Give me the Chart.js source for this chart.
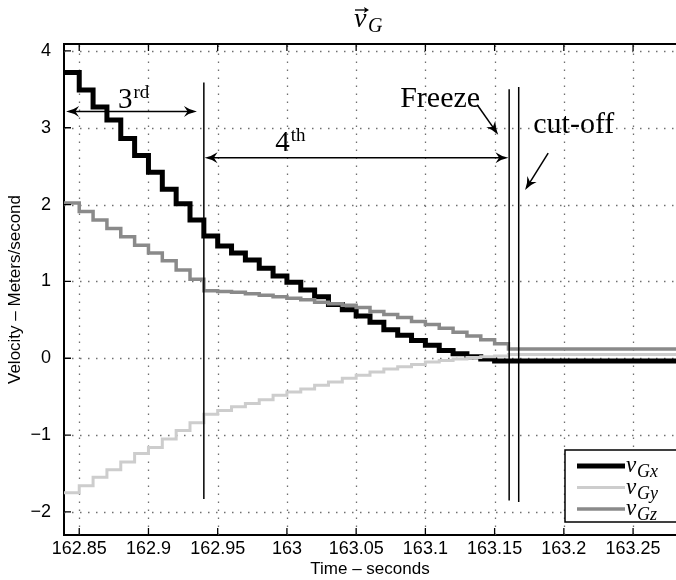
<!DOCTYPE html>
<html>
<head>
<meta charset="utf-8">
<script src="https://cdn.jsdelivr.net/npm/chart.js@4.4.0/dist/chart.umd.min.js"></script>
<style>
  html, body { margin: 0; padding: 0; background: #fff; }
</style>
</head>
<body>
<canvas id="myChart" width="676" height="580"></canvas>
<script>
// instantes (s) dos degraus: cada valor vale até o instante seguinte
const times = [162.839, 162.85, 162.86, 162.87, 162.88, 162.89, 162.90, 162.91, 162.92, 162.93,
    162.94, 162.95, 162.96, 162.97, 162.98, 162.99, 163.00, 163.01, 163.02, 163.03,
    163.04, 163.05, 163.06, 163.07, 163.08, 163.09, 163.10, 163.11, 163.12, 163.13,
    163.14, 163.15, 163.16, 163.281];

const vGx = [3.72, 3.49, 3.27, 3.10, 2.86, 2.64, 2.42, 2.20, 2.01, 1.80,
    1.59, 1.46, 1.37, 1.28, 1.17, 1.07, 0.99, 0.89, 0.80, 0.70,
    0.63, 0.55, 0.47, 0.37, 0.30, 0.23, 0.17, 0.10, 0.06, 0.02,
    -0.01, -0.035, -0.035, -0.035];

const vGy = [-1.75, -1.66, -1.55, -1.45, -1.35, -1.24, -1.16, -1.05, -0.94, -0.84,
    -0.73, -0.68, -0.63, -0.59, -0.54, -0.48, -0.44, -0.40, -0.35, -0.31,
    -0.26, -0.22, -0.18, -0.14, -0.11, -0.08, -0.05, -0.03, -0.01, 0.01,
    0.02, 0.03, 0.05, 0.05];

const vGz = [2.02, 1.91, 1.80, 1.69, 1.58, 1.47, 1.37, 1.27, 1.15, 1.03,
    0.88, 0.87, 0.86, 0.84, 0.82, 0.80, 0.78, 0.76, 0.73, 0.71,
    0.69, 0.66, 0.61, 0.57, 0.53, 0.48, 0.44, 0.39, 0.34, 0.29,
    0.24, 0.19, 0.12, 0.12];

const xTicks = [162.85, 162.9, 162.95, 163, 163.05, 163.1, 163.15, 163.2, 163.25];
const yTicks = [-2, -1, 0, 1, 2, 3, 4];
const legendSubs = ['Gx', 'Gy', 'Gz'];

// anotações em coordenadas de dados (tempo, velocidade)
const phaseLines = [
    { t: 162.94, from: -1.83, to: 3.59 },
    { t: 163.1605, from: -1.85, to: 3.50 },
    { t: 163.1674, from: -1.87, to: 3.53 }
];
const spanArrows = [
    { from: 162.8405, to: 162.935, v: 3.21 },
    { from: 162.9405, to: 163.1600, v: 2.61 }
];
const pointerArrows = [
    { t0: 163.1374, v0: 3.30, t1: 163.1526, v1: 2.91 },
    { t0: 163.1887, v0: 2.67, t1: 163.1720, v1: 2.19 }
];
const phaseLabels = [
    { t: 162.878, v: 3.26, main: '3', sup: 'rd' },
    { t: 162.9915, v: 2.70, main: '4', sup: 'th' }
];
const eventLabels = [
    { t: 163.0818, v: 3.27, text: 'Freeze' },
    { t: 163.1779, v: 2.93, text: 'cut-off' }
];

const sans = "'Liberation Sans', Arial, sans-serif";
const serif = "'Liberation Serif', 'DejaVu Serif', serif";
const lineColors = ['#000000', '#cdcdcd', '#8a8a8a'];
const lineWidths = [5, 3, 3.5];

const toPoints = vals => times.map((t, i) => ({ x: t, y: vals[i] }));

function arrowHead(ctx, x, y, ang) {
    const len = 13, w = 5.5;
    ctx.save();
    ctx.translate(x, y);
    ctx.rotate(ang);
    ctx.beginPath();
    ctx.moveTo(0, 0);
    ctx.quadraticCurveTo(-len * 0.55, -w * 0.25, -len, -w);
    ctx.lineTo(-len * 0.72, 0);
    ctx.lineTo(-len, w);
    ctx.quadraticCurveTo(-len * 0.55, w * 0.25, 0, 0);
    ctx.fill();
    ctx.restore();
}

// grade pontilhada (grid on do MATLAB)
const gridPlugin = {
    id: 'dotGrid',
    beforeDatasetsDraw(chart) {
        const { ctx, chartArea: a, scales: { x, y } } = chart;
        ctx.save();
        ctx.strokeStyle = '#6f6f6f';
        ctx.lineWidth = 1.3;
        ctx.setLineDash([1.5, 6.5]);
        ctx.beginPath();
        xTicks.forEach(t => {
            const px = Math.round(x.getPixelForValue(t)) + 0.5;
            ctx.moveTo(px, a.bottom); ctx.lineTo(px, a.top);
        });
        yTicks.forEach(v => {
            const py = Math.round(y.getPixelForValue(v)) + 0.5;
            ctx.moveTo(a.left, py); ctx.lineTo(a.right, py);
        });
        ctx.stroke();
        ctx.restore();
    }
};

// moldura no estilo MATLAB: borda superior e marcas para dentro
const framePlugin = {
    id: 'frame',
    afterDraw(chart) {
        const { ctx, chartArea: a, scales: { x, y } } = chart;
        ctx.save();
        ctx.strokeStyle = '#000';
        ctx.lineWidth = 2;
        ctx.beginPath();
        ctx.moveTo(a.left, a.top);
        ctx.lineTo(a.right, a.top);
        ctx.stroke();
        ctx.lineWidth = 1.3;
        ctx.beginPath();
        xTicks.forEach(t => {
            const px = x.getPixelForValue(t);
            ctx.moveTo(px, a.bottom); ctx.lineTo(px, a.bottom - 7);
            ctx.moveTo(px, a.top); ctx.lineTo(px, a.top + 7);
        });
        yTicks.forEach(v => {
            const py = y.getPixelForValue(v);
            ctx.moveTo(a.left, py); ctx.lineTo(a.left + 7, py);
        });
        ctx.stroke();
        ctx.restore();
    }
};

const annotationPlugin = {
    id: 'notes',
    afterDatasetsDraw(chart) {
        const { ctx, scales: { x, y } } = chart;
        ctx.save();
        ctx.strokeStyle = '#000';
        ctx.fillStyle = '#000';
        ctx.lineWidth = 1.5;

        phaseLines.forEach(l => {
            const px = x.getPixelForValue(l.t);
            ctx.beginPath();
            ctx.moveTo(px, y.getPixelForValue(l.from));
            ctx.lineTo(px, y.getPixelForValue(l.to));
            ctx.stroke();
        });

        spanArrows.forEach(s => {
            const x0 = x.getPixelForValue(s.from), x1 = x.getPixelForValue(s.to);
            const py = y.getPixelForValue(s.v);
            ctx.beginPath();
            ctx.moveTo(x0 + 4, py); ctx.lineTo(x1 - 4, py);
            ctx.stroke();
            arrowHead(ctx, x0, py, Math.PI);
            arrowHead(ctx, x1, py, 0);
        });

        pointerArrows.forEach(p => {
            const x0 = x.getPixelForValue(p.t0), y0 = y.getPixelForValue(p.v0);
            const x1 = x.getPixelForValue(p.t1), y1 = y.getPixelForValue(p.v1);
            const ang = Math.atan2(y1 - y0, x1 - x0);
            ctx.beginPath();
            ctx.moveTo(x0, y0);
            ctx.lineTo(x1 - 4 * Math.cos(ang), y1 - 4 * Math.sin(ang));
            ctx.stroke();
            arrowHead(ctx, x1, y1, ang);
        });

        ctx.textBaseline = 'alphabetic';
        ctx.textAlign = 'left';
        phaseLabels.forEach(l => {
            const px = x.getPixelForValue(l.t), py = y.getPixelForValue(l.v);
            ctx.font = '29px ' + serif;
            ctx.fillText(l.main, px, py);
            const w = ctx.measureText(l.main).width;
            ctx.font = '19px ' + serif;
            ctx.fillText(l.sup, px + w + 1, py - 10);
        });
        ctx.font = '30px ' + serif;
        eventLabels.forEach(l => {
            ctx.fillText(l.text, x.getPixelForValue(l.t), y.getPixelForValue(l.v));
        });
        ctx.restore();
    }
};

const legendPlugin = {
    id: 'legendBox',
    afterDraw(chart) {
        const { ctx, chartArea: a } = chart;
        const left = a.left + 501, top = a.top + 406, bottom = a.bottom - 13;
        ctx.save();
        ctx.fillStyle = '#fff';
        ctx.fillRect(left, top, a.right - left + 5, bottom - top);
        ctx.strokeStyle = '#000';
        ctx.lineWidth = 1.5;
        ctx.strokeRect(left, top, a.right - left + 5, bottom - top);
        legendSubs.forEach((sub, i) => {
            const ly = top + 16 + i * 21.5;
            ctx.strokeStyle = lineColors[i];
            ctx.lineWidth = lineWidths[i];
            ctx.beginPath();
            ctx.moveTo(left + 12, ly); ctx.lineTo(left + 60, ly);
            ctx.stroke();
            ctx.fillStyle = '#000';
            ctx.font = 'italic 23px ' + serif;
            ctx.fillText('v', left + 61, ly + 6);
            ctx.font = 'italic 18px ' + serif;
            ctx.fillText(sub, left + 72, ly + 11);
        });
        ctx.restore();
    }
};

const titlePlugin = {
    id: 'mathTitle',
    afterDraw(chart) {
        const { ctx, chartArea: a } = chart;
        const cx = (a.left + a.right) / 2;
        ctx.save();
        ctx.fillStyle = '#000';
        ctx.strokeStyle = '#000';
        ctx.font = 'italic 28px ' + serif;
        ctx.fillText('v', cx - 16, 27);
        ctx.font = 'italic 20px ' + serif;
        ctx.fillText('G', cx - 2, 32);
        ctx.lineWidth = 1.3;
        ctx.beginPath();
        ctx.moveTo(cx - 15, 10); ctx.lineTo(cx - 3, 10);
        ctx.stroke();
        ctx.beginPath();
        ctx.moveTo(cx - 1, 10); ctx.lineTo(cx - 6, 7); ctx.lineTo(cx - 5, 10); ctx.lineTo(cx - 6, 13);
        ctx.closePath();
        ctx.fill();
        ctx.restore();
    }
};

const ctx = document.getElementById('myChart').getContext('2d');
new Chart(ctx, {
    type: 'line',
    data: {
        datasets: [
            { label: 'vGx', data: toPoints(vGx), borderColor: lineColors[0], borderWidth: lineWidths[0], order: 3 },
            { label: 'vGy', data: toPoints(vGy), borderColor: lineColors[1], borderWidth: lineWidths[1], order: 2 },
            { label: 'vGz', data: toPoints(vGz), borderColor: lineColors[2], borderWidth: lineWidths[2], order: 1 }
        ]
    },
    options: {
        responsive: false,
        animation: false,
        layout: { padding: { top: 44, right: 0, left: 0, bottom: 0 } },
        elements: {
            point: { radius: 0 },
            line: { stepped: true, borderJoinStyle: 'miter', tension: 0 }
        },
        plugins: { legend: { display: false }, tooltip: { enabled: false }, title: { display: false } },
        scales: {
            x: {
                type: 'linear',
                min: 162.839,
                max: 163.281,
                afterBuildTicks: s => { s.ticks = xTicks.map(v => ({ value: v })); },
                afterFit: s => { s.height = 45; s.paddingLeft = 0; s.paddingRight = 0; },
                ticks: { color: '#000', font: { family: sans, size: 18 }, padding: 3, maxRotation: 0, autoSkip: false,
                    callback: v => String(v) },
                grid: { display: false, drawTicks: false },
                border: { display: true, color: '#000', width: 2 },
                title: { display: true, text: 'Time – seconds', color: '#000', font: { family: sans, size: 17 }, padding: { top: 0, bottom: 0 } }
            },
            y: {
                min: -2.3,
                max: 4.09,
                afterBuildTicks: s => { s.ticks = yTicks.map(v => ({ value: v })); },
                afterFit: s => { s.width = 64; s.paddingTop = 0; s.paddingBottom = 0; },
                ticks: { color: '#000', font: { family: sans, size: 18 }, padding: 13,
                    callback: v => (v < 0 ? '\u2212' + Math.abs(v) : String(v)) },
                grid: { display: false, drawTicks: false },
                border: { display: true, color: '#000', width: 2 },
                title: { display: true, text: 'Velocity – Meters/second', color: '#000', font: { family: sans, size: 17 }, padding: { top: 5 } }
            }
        }
    },
    plugins: [gridPlugin, framePlugin, annotationPlugin, legendPlugin, titlePlugin]
});
</script>
</body>
</html>
